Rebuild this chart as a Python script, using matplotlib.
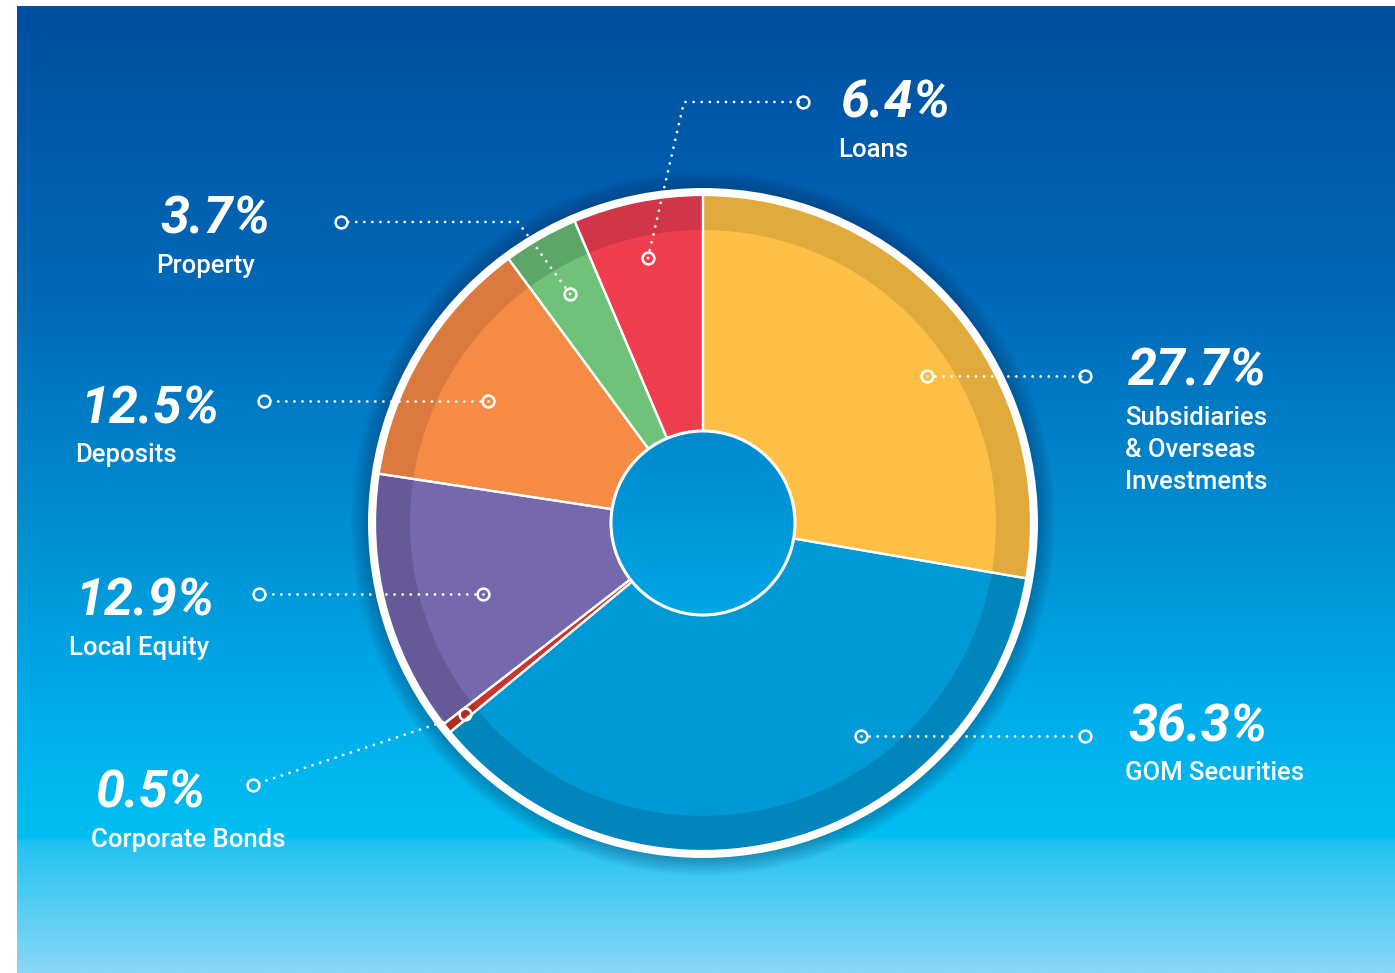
import numpy as np
import matplotlib.pyplot as plt
from matplotlib.patches import Circle
from matplotlib.colors import to_rgb

W, H = 1395, 973

categories = [
    "Subsidiaries\n& Overseas\nInvestments",
    "GOM Securities",
    "Corporate Bonds",
    "Local Equity",
    "Deposits",
    "Property",
    "Loans",
]
shares = [27.7, 36.3, 0.5, 12.9, 12.5, 3.7, 6.4]

BASE_COLORS = ["#fdbf45", "#0099d5", "#c9352a", "#7568ad", "#f58b45", "#70c27a", "#ef3e50"]
RIM_COLORS = ["#e0aa3d", "#0085bc", "#ae2d24", "#655a97", "#da7a3e", "#5ea667", "#d13548"]

# geometry in image pixels (y measured downwards)
CX, CY = 703, 523
R_OUT = 328
R_RIM = 293
R_HOLE = 92

# (pct x, pct baseline, name x, first name baseline)
LABEL_POS = [
    (1128, 385, 1125, 425),
    (1128, 741, 1125, 780),
    (95, 808, 91, 847),
    (75, 616, 69, 655),
    (80, 424, 75, 462),
    (160, 234, 156, 273),
    (840, 118, 838, 157),
]

LEADER_LINES = [
    [(927, 376), (1085, 376)],
    [(861, 736), (1085, 736)],
    [(443, 722), (253, 785)],
    [(483, 594), (259, 594)],
    [(488, 401), (264, 401)],
    [(570, 294), (518, 222), (341, 222)],
    [(648, 258), (684, 102), (803, 102)],
]
LEADER_ENDS = [
    [(927, 376), (1085, 376)],
    [(861, 736), (1085, 736)],
    [(465, 714), (253, 785)],
    [(483, 594), (259, 594)],
    [(488, 401), (264, 401)],
    [(570, 294), (341, 222)],
    [(648, 258), (803, 102)],
]


def Y(y):
    return H - y


def draw_background(ax):
    stops_y = [6, 300, 550, 700, 838, 843, 973]
    stops_c = ["#004e9f", "#0069b8", "#0092d5", "#00abe9", "#00bff2", "#22c3f1", "#8ad7f7"]
    rgb = np.array([to_rgb(c) for c in stops_c])
    ys = np.linspace(6, H, 600)
    grad = np.zeros((len(ys), 1, 3))
    for k in range(3):
        grad[:, 0, k] = np.interp(ys, stops_y, rgb[:, k])
    ax.imshow(grad, extent=(17, W, 0, H - 6), origin="upper", aspect="auto",
              interpolation="bilinear", zorder=0)


def draw_hole(ax):
    c = (CX, Y(CY))
    top, bot = np.array(to_rgb("#0089cd")), np.array(to_rgb("#00a6e5"))
    t = np.linspace(0, 1, 200)[:, None]
    grad = (top * (1 - t) + bot * t)[:, None, :]
    im = ax.imshow(grad, extent=(CX - R_HOLE, CX + R_HOLE, Y(CY) - R_HOLE, Y(CY) + R_HOLE),
                   origin="upper", aspect="auto", interpolation="bilinear", zorder=5)
    clip = Circle(c, R_HOLE, transform=ax.transData)
    im.set_clip_path(clip)
    ax.add_patch(Circle(c, R_HOLE, fc="none", ec="white", lw=2.2, zorder=6))


def main():
    fig = plt.figure(figsize=(W / 100, H / 100), dpi=100, facecolor="white")
    ax = fig.add_axes([0, 0, 1, 1])
    ax.set_axis_off()

    draw_background(ax)

    center = (CX, Y(CY))

    # soft shadow around the pie
    for r in np.linspace(352, 336, 9):
        ax.add_patch(Circle(center, r, color="#00204a", alpha=0.04, lw=0, zorder=1))

    common = dict(startangle=90, counterclock=False, center=center, frame=True)
    # darker outer rim, then lighter body, then white separators on top
    ax.pie(shares, colors=RIM_COLORS, radius=R_OUT,
           wedgeprops=dict(width=R_OUT - R_HOLE, linewidth=0, zorder=2), **common)
    ax.pie(shares, colors=BASE_COLORS, radius=R_RIM,
           wedgeprops=dict(width=R_RIM - R_HOLE, linewidth=0, zorder=3), **common)
    seps, _ = ax.pie(shares, radius=R_OUT,
                     wedgeprops=dict(width=R_OUT - R_HOLE, fill=False, edgecolor="white",
                                     linewidth=1.6, zorder=3.5), **common)

    ax.add_patch(Circle(center, 331.5, fill=False, ec="white", lw=5.0, zorder=4))

    draw_hole(ax)

    for line, ends in zip(LEADER_LINES, LEADER_ENDS):
        xs = [p[0] for p in line]
        ys = [Y(p[1]) for p in line]
        ax.plot(xs, ys, color="white", lw=2.0, dashes=(0.01, 2.9),
                dash_capstyle="round", zorder=7)
        ax.plot([p[0] for p in ends], [Y(p[1]) for p in ends], "o", ms=8.5,
                mfc="none", mec="white", mew=1.8, zorder=8)

    for name, share, (px, pb, nx, nb) in zip(categories, shares, LABEL_POS):
        ax.text(px, Y(pb), f"{share:.1f}%", color="white", fontsize=37.5,
                fontfamily="Roboto", fontweight="bold", fontstyle="italic",
                ha="left", va="baseline", zorder=9)
        for i, part in enumerate(name.split("\n")):
            ax.text(nx, Y(nb + 32 * i), part, color="white", fontsize=18.5,
                    fontfamily="Roboto", fontweight="medium",
                    ha="left", va="baseline", zorder=9)

    ax.set_xlim(0, W)
    ax.set_ylim(0, H)
    ax.set_aspect("equal")

    fig.savefig("out.png", dpi=100, facecolor="white")


if __name__ == "__main__":
    main()
